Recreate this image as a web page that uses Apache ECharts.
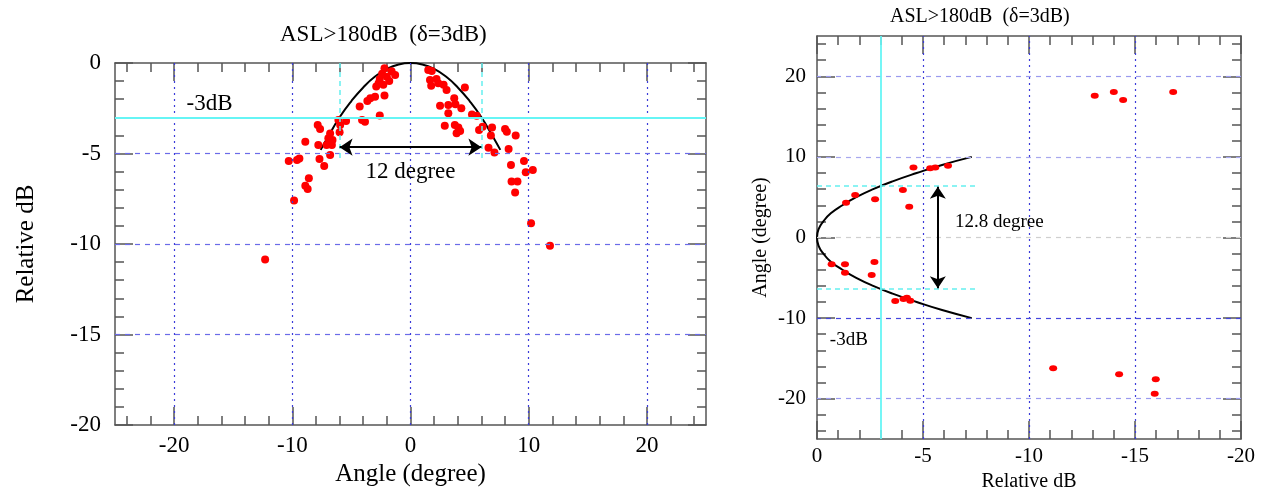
<!DOCTYPE html>
<html lang="en">
<head>
<meta charset="UTF-8"/>
<title>ASL&gt;180dB beam pattern</title>
<script src="https://cdn.jsdelivr.net/npm/echarts@6/dist/echarts.min.js"></script>
<style>html,body{margin:0;padding:0;background:#fff;}</style>
</head>
<body>
<div id="main" style="width:1265px;height:487px;"></div>
<script type="text/javascript">
// ---- left panel: relative dB vs angle ----
var leftPoints = [
    [-2.2,-0.29],[-2.6,-0.88],[-2.0,-0.76],[-1.3,-0.66],[-2.7,-1.12],[-2.3,-1.2],[-1.8,-1.0],[-2.4,-0.6],
    [-1.6,-0.45],[-2.9,-1.3],[-3.4,-1.95],[-3.0,-1.86],[-2.2,-1.8],[-4.3,-2.4],[-3.65,-2.1],[-2.6,-2.9],
    [-4.1,-3.15],[-3.85,-3.24],[-6.1,-3.15],[-5.45,-3.2],[-5.95,-3.42],[-7.85,-3.42],[-7.65,-3.65],
    [-6.8,-3.9],[-6.0,-3.83],[-6.95,-4.16],[-6.6,-4.25],[-8.9,-4.35],[-7.8,-4.53],[-7.1,-4.53],
    [-6.65,-4.53],[-6.8,-5.08],[-7.7,-5.3],[-10.3,-5.41],[-9.6,-5.36],[-9.4,-5.27],[-7.3,-5.69],
    [-8.6,-6.37],[-8.9,-6.78],[-8.7,-6.96],[-9.85,-7.6],[-12.3,-10.85],
    [1.5,-0.39],[1.8,-0.44],[1.65,-0.94],[2.2,-0.88],[2.35,-1.12],[1.75,-1.25],[2.8,-1.2],[3.05,-1.49],
    [4.6,-1.36],[3.7,-1.95],[2.5,-2.36],[3.2,-2.32],[3.8,-2.28],[4.3,-2.5],[3.2,-2.78],[5.2,-2.84],
    [5.6,-2.91],[2.9,-3.46],[3.75,-3.42],[4.05,-3.57],[3.9,-3.88],[4.2,-3.76],[6.1,-3.52],[6.9,-3.57],
    [5.8,-3.7],[6.8,-4.0],[8.0,-3.65],[8.15,-3.8],[8.9,-4.0],[6.6,-4.68],[7.1,-4.95],[8.3,-4.75],
    [8.5,-5.64],[9.6,-5.41],[9.75,-6.04],[10.35,-5.91],[8.55,-6.55],[9.05,-6.55],[8.85,-7.16],
    [10.2,-8.85],[11.8,-10.1]
];
var leftCurveAngle = [-7.6,-7,-6,-5,-4,-3,-2,-1,0,1,2,3,4,5,6,7,7.6];
var leftCurveDb    = [-4.8,-4.1,-3.0,-2.1,-1.35,-0.75,-0.33,-0.08,0,-0.08,-0.33,-0.75,-1.35,-2.1,-3.0,-4.1,-4.8];
var leftGridX = [-20,-10,0,10,20];
var leftGridY = [-5,-10,-15];
var leftMajorX = [-20,-10,0,10,20];
var leftMinorX = [-24,-22,-18,-16,-14,-12,-8,-6,-4,-2,2,4,6,8,12,14,16,18,22,24];
var leftMinorY = [-19,-18,-17,-16,-14,-13,-12,-11,-9,-8,-7,-6,-4,-3,-2,-1];

// ---- right panel: angle vs relative dB ----
var rightPoints = [
    [-4.55,8.7],[-5.34,8.58],[-5.58,8.7],[-6.18,8.9],[-1.8,5.27],[-1.37,4.32],[-2.74,4.74],[-4.05,5.9],
    [-4.35,3.82],[-0.69,-3.33],[-1.32,-3.33],[-1.32,-4.37],[-2.71,-3.04],[-2.58,-4.65],[-3.69,-7.88],
    [-4.08,-7.63],[-4.24,-7.47],[-4.4,-7.84],[-13.1,17.6],[-14.0,18.05],[-14.44,17.06],[-16.8,18.05],
    [-11.14,-16.23],[-14.25,-16.97],[-15.98,-17.6],[-15.93,-19.38]
];
var rightCurveAngle = [-10,-9,-8,-7,-6,-5,-4,-3,-2,-1,0,1,2,3,4,5,6,7,8,9,10];
var rightCurveDb    = [-7.3,-5.9,-4.7,-3.6,-2.65,-1.85,-1.2,-0.65,-0.3,-0.07,0,-0.07,-0.3,-0.65,-1.2,-1.85,-2.65,-3.6,-4.7,-5.9,-7.3];
var rightGridX = [-5,-10,-15];
var rightGridY = [20,10,0,-10,-20];
var rightMajorY = [-20,-10,0,10,20];
var rightMinorY = [-24,-22,-18,-16,-14,-12,-8,-6,-4,-2,2,4,6,8,12,14,16,18,22,24];
var rightMinorX = [-19,-18,-17,-16,-14,-13,-12,-11,-9,-8,-7,-6,-4,-3,-2,-1];

var FONT = 'Liberation Serif';
var FRAME = '#555';
var myChart = echarts.init(document.getElementById('main'));

function tickAxis(grid, pos, min, max, inverse, values, len, showLine) {
    return {
        gridIndex: grid, type: 'value', position: pos, min: min, max: max, inverse: inverse,
        axisLine: {show: !!showLine, onZero: false, lineStyle: {color: FRAME, width: 1.5}},
        axisLabel: {show: false}, splitLine: {show: false},
        axisTick: {show: true, inside: true, length: len, customValues: values,
                   lineStyle: {color: FRAME, width: 1.5}}
    };
}
function tenOnly(v) { return v % 10 === 0 ? String(v) : ''; }

var xAxes = [], yAxes = [];
// left grid x axes
xAxes.push({
    gridIndex: 0, type: 'value', position: 'bottom', min: -25, max: 25, interval: 5,
    axisLine: {show: true, onZero: false, lineStyle: {color: FRAME, width: 1.5}},
    axisTick: {show: false}, splitLine: {show: false},
    axisLabel: {formatter: tenOnly, color: '#000', fontFamily: FONT, fontSize: 23, margin: 9},
    name: 'Angle (degree)', nameLocation: 'middle', nameGap: 35,
    nameTextStyle: {color: '#000', fontFamily: FONT, fontSize: 25}
});
xAxes.push(tickAxis(0, 'bottom', -25, 25, false, leftMajorX, 18));
xAxes.push(tickAxis(0, 'bottom', -25, 25, false, leftMinorX, 9));
xAxes.push(tickAxis(0, 'top', -25, 25, false, leftMajorX, 18, true));
xAxes.push(tickAxis(0, 'top', -25, 25, false, leftMinorX, 9));
// left grid y axes
yAxes.push({
    gridIndex: 0, type: 'value', position: 'left', min: -20, max: 0, interval: 5,
    axisLine: {show: true, onZero: false, lineStyle: {color: FRAME, width: 1.5}},
    axisTick: {show: true, inside: true, length: 18, lineStyle: {color: FRAME, width: 1.5}},
    splitLine: {show: false},
    axisLabel: {color: '#000', fontFamily: FONT, fontSize: 23, margin: 14},
    name: 'Relative dB', nameLocation: 'middle', nameGap: 76,
    nameTextStyle: {color: '#000', fontFamily: FONT, fontSize: 25}
});
yAxes.push(tickAxis(0, 'left', -20, 0, false, leftMinorY, 9));
yAxes.push({
    gridIndex: 0, type: 'value', position: 'right', min: -20, max: 0, interval: 5,
    axisLine: {show: true, onZero: false, lineStyle: {color: FRAME, width: 1.5}},
    axisTick: {show: true, inside: true, length: 18, lineStyle: {color: FRAME, width: 1.5}},
    axisLabel: {show: false}, splitLine: {show: false}
});
yAxes.push(tickAxis(0, 'right', -20, 0, false, leftMinorY, 9));

// right grid x axes
var rxMain = xAxes.length;
xAxes.push({
    gridIndex: 1, type: 'value', position: 'bottom', min: -20, max: 0, interval: 5, inverse: true,
    axisLine: {show: true, onZero: false, lineStyle: {color: FRAME, width: 1.5}},
    axisTick: {show: true, inside: true, length: 18, lineStyle: {color: FRAME, width: 1.5}},
    splitLine: {show: false},
    axisLabel: {color: '#000', fontFamily: FONT, fontSize: 21, margin: 7},
    name: 'Relative dB', nameLocation: 'middle', nameGap: 33,
    nameTextStyle: {color: '#000', fontFamily: FONT, fontSize: 20}
});
xAxes.push(tickAxis(1, 'bottom', -20, 0, true, rightMinorX, 9));
xAxes.push({
    gridIndex: 1, type: 'value', position: 'top', min: -20, max: 0, interval: 5, inverse: true,
    axisLine: {show: true, onZero: false, lineStyle: {color: FRAME, width: 1.5}},
    axisTick: {show: true, inside: true, length: 18, lineStyle: {color: FRAME, width: 1.5}},
    axisLabel: {show: false}, splitLine: {show: false}
});
xAxes.push(tickAxis(1, 'top', -20, 0, true, rightMinorX, 9));
// right grid y axes
var ryMain = yAxes.length;
yAxes.push({
    gridIndex: 1, type: 'value', position: 'left', min: -25, max: 25, interval: 5,
    axisLine: {show: true, onZero: false, lineStyle: {color: FRAME, width: 1.5}},
    axisTick: {show: false}, splitLine: {show: false},
    axisLabel: {formatter: tenOnly, color: '#000', fontFamily: FONT, fontSize: 21, margin: 11},
    name: 'Angle (degree)', nameLocation: 'middle', nameGap: 46,
    nameTextStyle: {color: '#000', fontFamily: FONT, fontSize: 20}
});
yAxes.push(tickAxis(1, 'left', -25, 25, false, rightMajorY, 18));
yAxes.push(tickAxis(1, 'left', -25, 25, false, rightMinorY, 9));
yAxes.push(tickAxis(1, 'right', -25, 25, false, rightMajorY, 18, true));
yAxes.push(tickAxis(1, 'right', -25, 25, false, rightMinorY, 9));

function zip(a, b) { return a.map(function (v, i) { return [v, b[i]]; }); }

var dotted = {color: '#3b3bd9', type: [2, 4], width: 1.2};
var dashed = {color: '#6b6be8', type: [5, 5], width: 1.2};
var cyanSolid = {color: '#66f5f5', type: 'solid', width: 1.8};
var cyanDash = {color: '#66f0f0', type: [5, 4], width: 1.5};

var leftLines = [];
leftGridX.forEach(function (v) { leftLines.push({xAxis: v, lineStyle: dotted}); });
leftGridY.forEach(function (v) { leftLines.push({yAxis: v, lineStyle: dashed}); });
leftLines.push({yAxis: -3, lineStyle: cyanSolid});
leftLines.push([{coord: [-6, 0], lineStyle: cyanDash}, {coord: [-6, -5.3]}]);
leftLines.push([{coord: [6, 0], lineStyle: cyanDash}, {coord: [6, -5.3]}]);

var rightLineColors = {'20': '#9a9aee', '10': '#a8a8ee', '0': '#cfcfcf', '-10': '#4545dd', '-20': '#9a9aee'};
var rightLines = [];
rightGridX.forEach(function (v) { rightLines.push({xAxis: v, lineStyle: dotted}); });
rightGridY.forEach(function (v) {
    rightLines.push({yAxis: v, lineStyle: {color: rightLineColors[String(v)], type: [5, 5], width: 1.2}});
});
rightLines.push({xAxis: -3, lineStyle: cyanSolid});
rightLines.push([{coord: [0, 6.4], lineStyle: cyanDash}, {coord: [-7.6, 6.4]}]);
rightLines.push([{coord: [0, -6.4], lineStyle: cyanDash}, {coord: [-7.6, -6.4]}]);

var textLabel = {show: true, color: '#000', fontFamily: FONT, fontSize: 23, position: 'inside'};

option = {
    animation: false,
    grid: [
        {left: 115, top: 63, width: 591, height: 362, outerBoundsMode: 'none', containLabel: false},
        {left: 817, top: 36, width: 424, height: 403, outerBoundsMode: 'none', containLabel: false}
    ],
    graphic: [
        {type: 'text', left: 410 - 130, top: 23, style: {text: 'ASL>180dB  (δ=3dB)', fill: '#000', font: '23px "Liberation Serif"', width: 260, align: 'center'}},
        {type: 'text', left: 1000 - 110, top: 7, style: {text: 'ASL>180dB  (δ=3dB)', fill: '#000', font: '20px "Liberation Serif"', width: 220, align: 'center'}}
    ],
    xAxis: xAxes,
    yAxis: yAxes,
    series: [
        {
            type: 'line', xAxisIndex: 0, yAxisIndex: 0, z: 3,
            data: zip(leftCurveAngle, leftCurveDb), smooth: true, showSymbol: false,
            lineStyle: {color: '#000', width: 2},
            markLine: {silent: true, symbol: 'none', label: {show: false}, data: leftLines}
        },
        {
            type: 'scatter', xAxisIndex: 0, yAxisIndex: 0, z: 4,
            data: leftPoints, symbolSize: 8, itemStyle: {color: '#ff0000', opacity: 1},
            markLine: {
                silent: true, symbol: ['arrow', 'arrow'], symbolSize: 13, label: {show: false},
                lineStyle: {color: '#000', width: 2, type: 'solid'},
                data: [[{coord: [-6, -4.65]}, {coord: [6, -4.65]}]]
            },
            markPoint: {
                symbol: 'circle', symbolSize: 1, itemStyle: {color: 'rgba(0,0,0,0)'}, label: textLabel,
                data: [
                    {coord: [0, -6.0], label: {formatter: '12 degree'}},
                    {coord: [-17.0, -2.27], label: {formatter: '-3dB'}}
                ]
            }
        },
        {
            type: 'line', xAxisIndex: rxMain, yAxisIndex: ryMain, z: 3,
            data: zip(rightCurveDb, rightCurveAngle), smooth: true, showSymbol: false,
            lineStyle: {color: '#000', width: 2},
            markLine: {silent: true, symbol: 'none', label: {show: false}, data: rightLines}
        },
        {
            type: 'scatter', xAxisIndex: rxMain, yAxisIndex: ryMain, z: 4,
            data: rightPoints, symbolSize: [8, 6], itemStyle: {color: '#ff0000', opacity: 1},
            markLine: {
                silent: true, symbol: ['arrow', 'arrow'], symbolSize: 12, label: {show: false},
                lineStyle: {color: '#000', width: 2, type: 'solid'},
                data: [[{coord: [-5.7, 6.3]}, {coord: [-5.7, -6.3]}]]
            },
            markPoint: {
                symbol: 'circle', symbolSize: 1, itemStyle: {color: 'rgba(0,0,0,0)'},
                label: {show: true, color: '#000', fontFamily: FONT, fontSize: 19, position: 'inside'},
                data: [
                    {coord: [-8.6, 1.9], label: {formatter: '12.8 degree'}},
                    {coord: [-1.5, -12.7], label: {formatter: '-3dB'}}
                ]
            }
        }
    ]
};

myChart.setOption(option);
</script>
</body>
</html>
